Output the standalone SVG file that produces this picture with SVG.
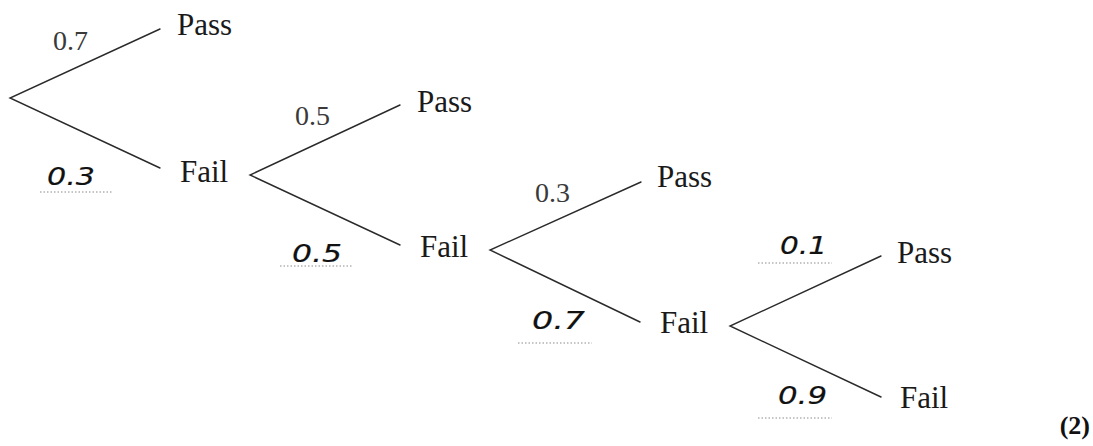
<svg xmlns="http://www.w3.org/2000/svg" width="1093" height="446" viewBox="0 0 1093 446">
<style>
.br{stroke:#2a2a2a;stroke-width:1.4;fill:none;stroke-linecap:round}
.lbl{font-family:"Liberation Serif","Times New Roman",serif;font-size:31px;fill:#1a1a1a}
.num{font-family:"Liberation Serif","Times New Roman",serif;font-size:28px;fill:#3a3a3a}
.hw{font-family:"DejaVu Sans",sans-serif;font-style:italic;font-size:25px;fill:#111;stroke:#111;stroke-width:0.2}
.dot{stroke:#8a8a8a;stroke-width:1;stroke-dasharray:1.5 2;fill:none}
.mk{font-family:"Liberation Serif","Times New Roman",serif;font-weight:bold;font-size:26px;fill:#111}
</style>
<rect width="1093" height="446" fill="#fff"/>
<g id="connectors">
<path class="br" d="M160,29 L10,98 L160,168"/>
<path class="br" d="M400,105 L250,175 L400,245"/>
<path class="br" d="M641,182 L490,250 L640,322"/>
<path class="br" d="M881,256 L730,326 L881,397"/>
</g>
<g id="n1-pass"><text class="lbl" x="177" y="35">Pass</text></g>
<g id="n1-fail"><text class="lbl" x="180" y="182">Fail</text></g>
<g id="n2-pass"><text class="lbl" x="417" y="112">Pass</text></g>
<g id="n2-fail"><text class="lbl" x="420" y="257">Fail</text></g>
<g id="n3-pass"><text class="lbl" x="657" y="187">Pass</text></g>
<g id="n3-fail"><text class="lbl" x="660" y="333">Fail</text></g>
<g id="n4-pass"><text class="lbl" x="897" y="263">Pass</text></g>
<g id="n4-fail"><text class="lbl" x="900" y="408">Fail</text></g>
<g id="probs">
<text class="num" x="53" y="50">0.7</text>
<text class="num" x="295" y="125">0.5</text>
<text class="num" x="535" y="202">0.3</text>
</g>
<g id="answers">
<text class="hw" x="47" y="185" textLength="48" lengthAdjust="spacingAndGlyphs">0.3</text>
<path class="dot" d="M40,192 H112"/>
<text class="hw" x="292" y="262" textLength="50" lengthAdjust="spacingAndGlyphs">0.5</text>
<path class="dot" d="M280,266 H352"/>
<text class="hw" x="532" y="329" textLength="53" lengthAdjust="spacingAndGlyphs">0.7</text>
<path class="dot" d="M518,343 H592"/>
<text class="hw" x="780" y="254" textLength="47" lengthAdjust="spacingAndGlyphs">0.1</text>
<path class="dot" d="M758,263 H832"/>
<text class="hw" x="778" y="404" textLength="49" lengthAdjust="spacingAndGlyphs">0.9</text>
<path class="dot" d="M758,418 H832"/>
</g>
<g id="marks"><text class="mk" x="1090" y="434" text-anchor="end">(2)</text></g>
</svg>
